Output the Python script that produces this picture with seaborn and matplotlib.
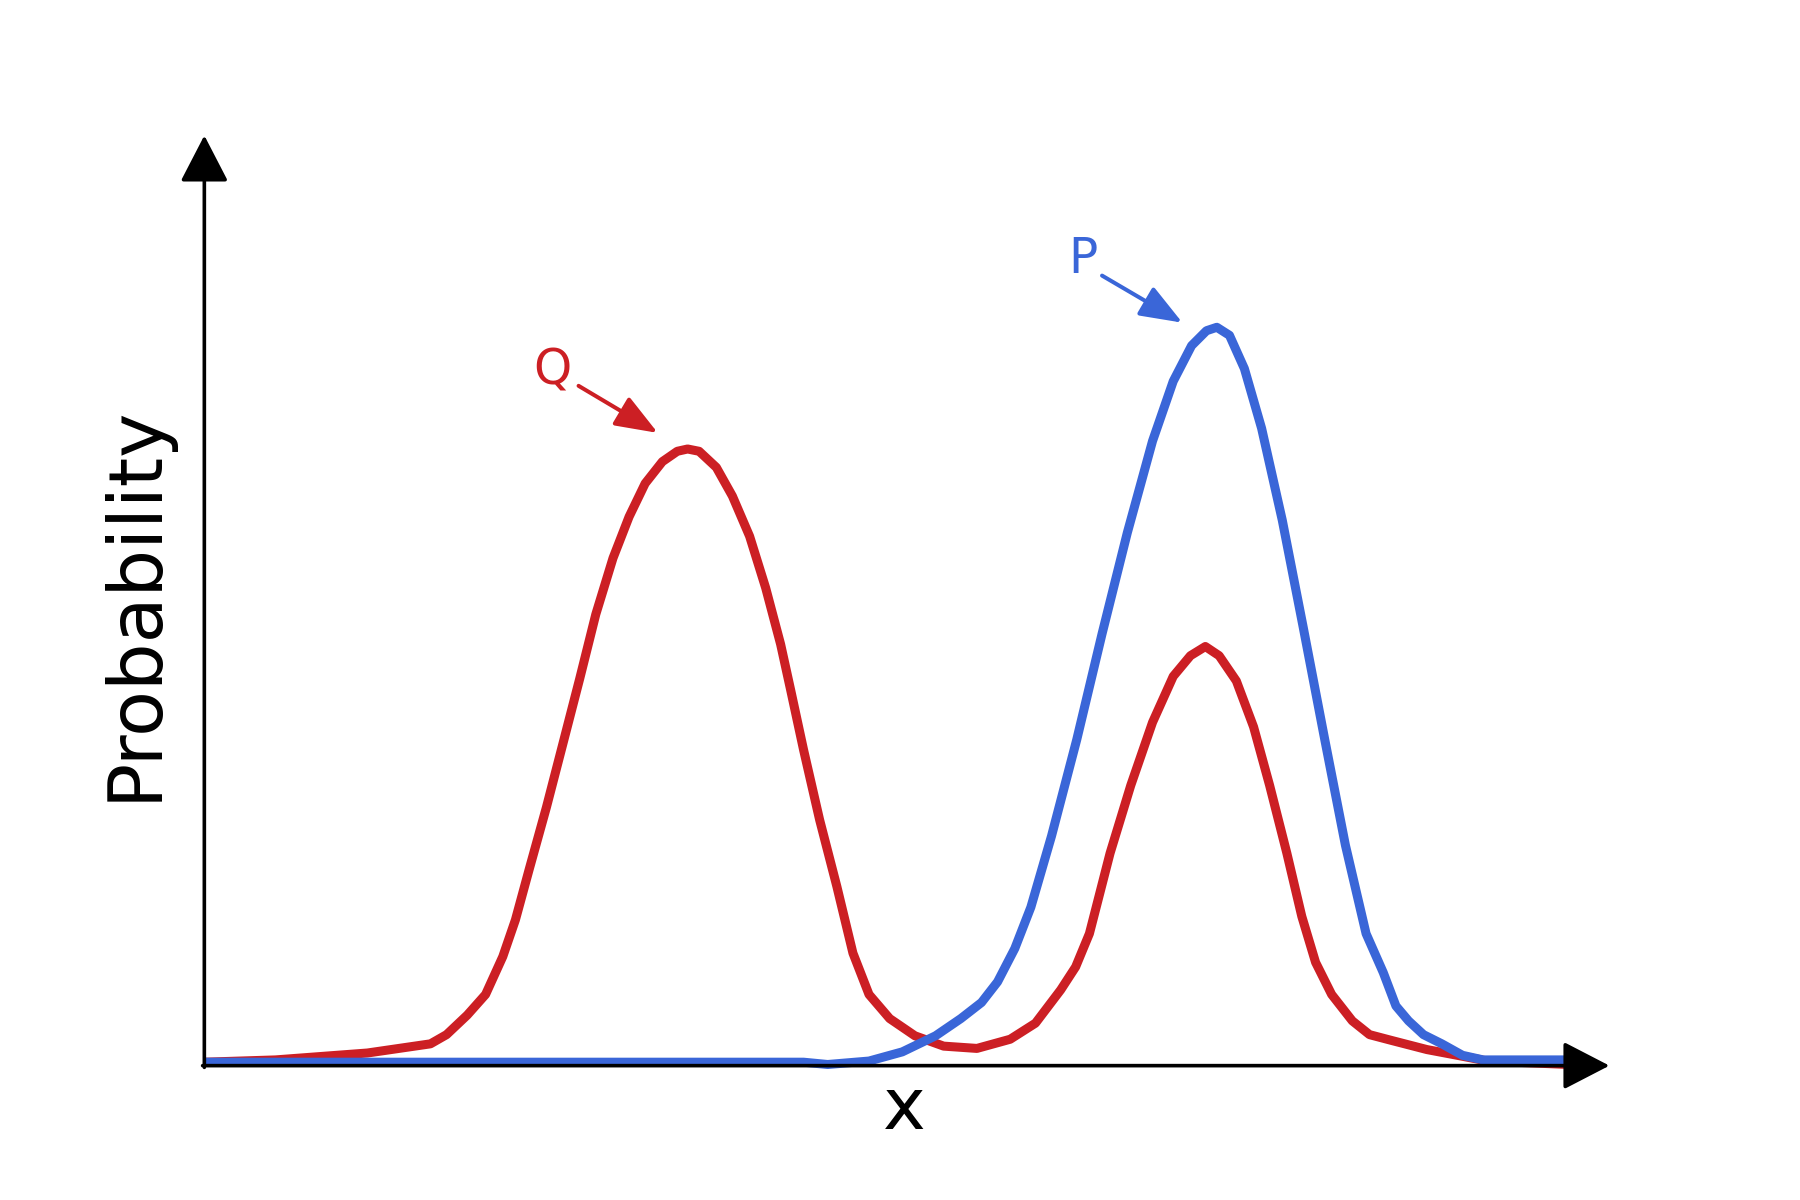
import matplotlib
matplotlib.use("Agg")
import matplotlib.pyplot as plt
import seaborn as sns
import pandas as pd

# curve Q (red)
q_x = [0.00, 0.62, 1.42, 1.97, 2.11, 2.29, 2.45, 2.60, 2.71, 2.83, 2.98, 3.12, 3.27,
       3.41, 3.56, 3.70, 3.84, 3.99, 4.12, 4.21, 4.31, 4.46, 4.60, 4.75, 4.89, 5.02,
       5.11, 5.22, 5.36, 5.51, 5.65, 5.79, 5.97, 6.19, 6.44, 6.73, 7.02, 7.24, 7.46,
       7.59, 7.71, 7.89, 8.07, 8.26, 8.44, 8.59, 8.72, 8.84, 8.99, 9.14, 9.28, 9.43,
       9.56, 9.68, 9.82, 10.00, 10.15, 10.34, 10.65, 11.18, 11.89]
q_y = [0.03, 0.05, 0.11, 0.19, 0.27, 0.44, 0.62, 0.95, 1.27, 1.71, 2.25, 2.79, 3.37,
       3.93, 4.42, 4.78, 5.07, 5.26, 5.35, 5.37, 5.35, 5.21, 4.96, 4.61, 4.16, 3.67,
       3.26, 2.75, 2.14, 1.56, 0.98, 0.62, 0.41, 0.26, 0.17, 0.15, 0.23, 0.37, 0.66,
       0.86, 1.15, 1.85, 2.44, 2.99, 3.39, 3.57, 3.65, 3.57, 3.35, 2.95, 2.44, 1.85,
       1.30, 0.90, 0.62, 0.39, 0.27, 0.22, 0.14, 0.04, 0.01]

# curve P (blue)
p_x = [0.00, 1.97, 5.22, 5.43, 5.79, 6.08, 6.37, 6.59, 6.77, 6.91, 7.06, 7.20, 7.38,
       7.60, 7.82, 8.04, 8.26, 8.44, 8.60, 8.73, 8.82, 8.93, 9.06, 9.21, 9.39, 9.57,
       9.76, 9.94, 10.12, 10.27, 10.38, 10.49, 10.62, 10.78, 10.96, 11.14, 11.89]
p_y = [0.03, 0.03, 0.03, 0.01, 0.04, 0.12, 0.26, 0.41, 0.55, 0.73, 1.02, 1.38, 2.00,
       2.84, 3.76, 4.64, 5.44, 5.96, 6.27, 6.40, 6.43, 6.36, 6.07, 5.55, 4.75, 3.83,
       2.84, 1.92, 1.15, 0.81, 0.52, 0.39, 0.27, 0.19, 0.09, 0.05, 0.05]

red = "#CC1F24"
blue = "#3A66D8"

df = pd.concat([
    pd.DataFrame({"x": q_x, "y": q_y, "dist": "Q"}),
    pd.DataFrame({"x": p_x, "y": p_y, "dist": "P"}),
])

sns.set_theme(style="white")
plt.rcParams['font.family'] = ['DejaVu Sans']

fig = plt.figure(figsize=(18, 12), dpi=100)
ax = fig.add_axes([0, 0, 1, 1])
sns.lineplot(data=df, x="x", y="y", hue="dist", palette={"Q": red, "P": blue},
             hue_order=["Q", "P"], sort=False, estimator=None, linewidth=6.5,
             legend=False, ax=ax, solid_joinstyle="round", solid_capstyle="butt")
ax.set_xlim(-1.78, 13.90)
ax.set_ylim(-1.17, 9.28)
ax.axis("off")

# axes with arrow heads
axis_arrow = dict(arrowstyle="-|>,head_length=29,head_width=15", lw=2.6,
                  color="black", mutation_scale=1, shrinkA=0, shrinkB=0)
ax.annotate("", xy=(0, 8.10), xytext=(0, -0.015), arrowprops=axis_arrow)
ax.annotate("", xy=(12.24, 0), xytext=(-0.015, 0), arrowprops=axis_arrow)

ax.text(-0.60, 4.03, "Probability", rotation=90, fontsize=54,
        ha="center", va="center", color="black")
ax.text(6.10, -0.554, "x", fontsize=52, ha="center", va="baseline", color="black")

# labels pointing at the peaks
def label_arrow(txt, tx, ty, start, tip, c):
    ax.text(tx, ty, txt, fontsize=35, color=c, ha="center", va="baseline")
    ax.annotate("", xy=tip, xytext=start,
                arrowprops=dict(arrowstyle="-|>,head_length=26,head_width=10",
                                lw=2.9, color=c, mutation_scale=1,
                                shrinkA=0, shrinkB=0))

label_arrow("Q", 3.03, 5.93, (3.26, 5.92), (3.95, 5.51), red)
label_arrow("P", 7.65, 6.90, (7.82, 6.88), (8.52, 6.47), blue)

fig.savefig("out.png", dpi=100)
